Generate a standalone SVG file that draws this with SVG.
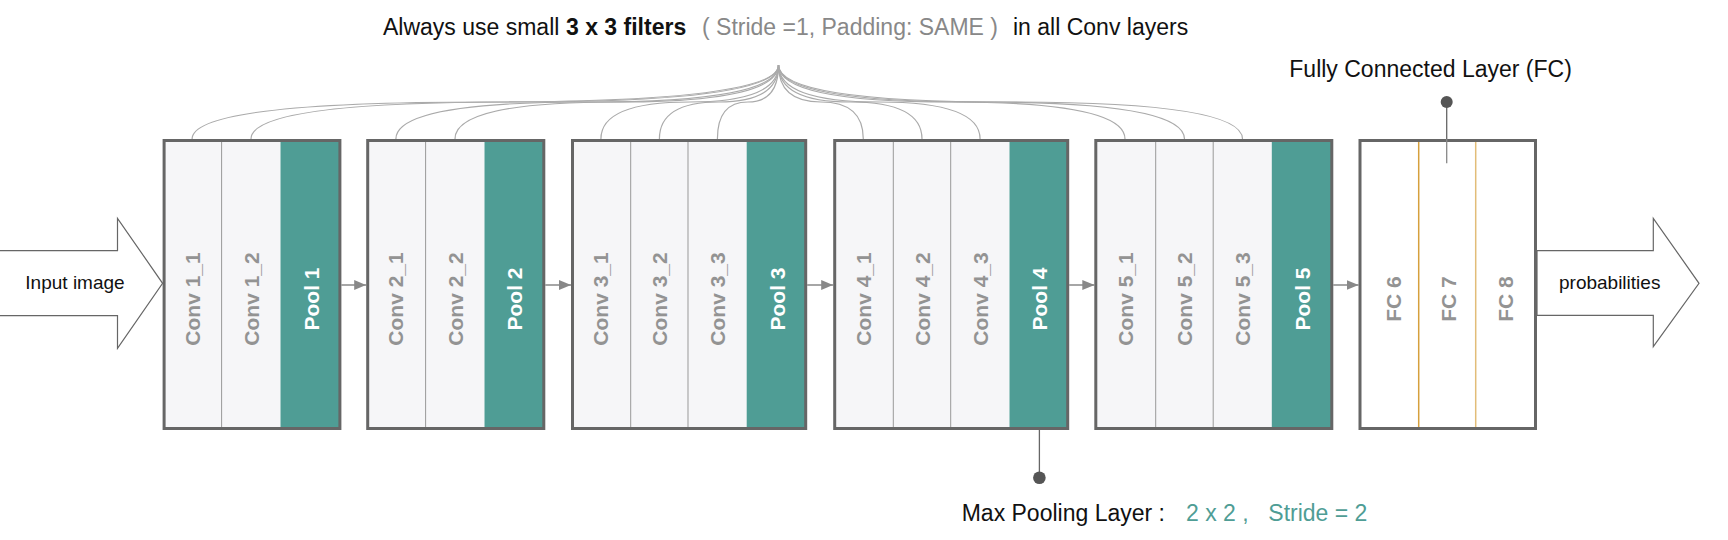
<svg xmlns="http://www.w3.org/2000/svg" width="1728" height="540" viewBox="0 0 1728 540">
<defs>
<style>
.txt{font-family:"Liberation Sans",Arial,Helvetica,sans-serif;fill:#111}
.t23{font-size:23px}
.t19{font-size:19px}
.conv{fill:#f6f6f8}
.pool{fill:#4f9d95}
.fcbg{fill:#ffffff}
.div{stroke:#999;stroke-width:1}
.blk{fill:none;stroke:#666;stroke-width:3}
.lbl{font-family:"Liberation Sans",Arial,Helvetica,sans-serif;font-weight:bold;font-size:21px;fill:#939393;text-anchor:middle}
.plbl{fill:#ffffff}
.fan{fill:none;stroke:#aaa;stroke-width:1.2}
.flow{fill:none;stroke:#888;stroke-width:1.5;marker-end:url(#ah)}
.big{fill:#fff;stroke:#666;stroke-width:1.2}
.pin{stroke:#666;stroke-width:1.3}
.dot{fill:#555}
.gray{fill:#888}
.teal{fill:#4f9d95}
</style>
<marker id="ah" viewBox="0 0 12 10" refX="12" refY="5" markerWidth="12" markerHeight="10" markerUnits="userSpaceOnUse" orient="auto">
<path d="M0,0 L12,5 L0,10 z" fill="#888"/>
</marker>
</defs>

<g id="title">
<text class="txt t23" y="35"><tspan x="383">Always use small</tspan><tspan x="566" font-weight="bold">3 x 3 filters</tspan><tspan x="702" class="gray">( Stride =1, Padding: SAME )</tspan><tspan x="1013">in all Conv layers</tspan></text>
</g>

<g id="connectors">
<path class="fan" d="M778.5 65 Q778.5 102 485.3 102 Q192.1 102 192.1 139"/>
<path class="fan" d="M778.5 65 Q778.5 102 514.75 102 Q251 102 251 139"/>
<path class="fan" d="M778.5 65 Q778.5 102 587.2 102 Q395.9 102 395.9 139"/>
<path class="fan" d="M778.5 65 Q778.5 102 616.75 102 Q455 102 455 139"/>
<path class="fan" d="M778.5 65 Q778.5 102 689.7 102 Q600.9 102 600.9 139"/>
<path class="fan" d="M778.5 65 Q778.5 102 718.95 102 Q659.4 102 659.4 139"/>
<path class="fan" d="M778.5 65 Q778.5 102 747.95 102 Q717.4 102 717.4 139"/>
<path class="fan" d="M778.5 65 Q778.5 102 820.9 102 Q863.3 102 863.3 139"/>
<path class="fan" d="M778.5 65 Q778.5 102 850.25 102 Q922 102 922 139"/>
<path class="fan" d="M778.5 65 Q778.5 102 879.3 102 Q980.1 102 980.1 139"/>
<path class="fan" d="M778.5 65 Q778.5 102 951.75 102 Q1125 102 1125 139"/>
<path class="fan" d="M778.5 65 Q778.5 102 981.5 102 Q1184.5 102 1184.5 139"/>
<path class="fan" d="M778.5 65 Q778.5 102 1010.5 102 Q1242.5 102 1242.5 139"/>
<line class="flow" x1="341.4" y1="285" x2="366.2" y2="285"/>
<line class="flow" x1="545.3" y1="285" x2="571" y2="285"/>
<line class="flow" x1="807.2" y1="285" x2="833.2" y2="285"/>
<line class="flow" x1="1069.2" y1="285" x2="1094.3" y2="285"/>
<line class="flow" x1="1333.3" y1="285" x2="1358.5" y2="285"/>
<line class="pin" x1="1039.4" y1="416" x2="1039.4" y2="477.7"/>
<circle class="dot" cx="1039.4" cy="477.7" r="6.3"/>
<line class="pin" x1="1446.7" y1="102" x2="1446.7" y2="163.3" stroke="#888"/>
<circle class="dot" cx="1446.7" cy="102" r="6"/>
</g>

<g id="input-arrow">
<polygon class="big" points="-5,250.7 117.5,250.7 117.5,218.3 162.6,283.3 117.5,348.3 117.5,315.7 -5,315.7"/>
<text class="txt t19" x="75" y="288.5" text-anchor="middle">Input image</text>
</g>

<g id="block1">
<rect class="conv" x="164.1" y="140.5" width="57.5" height="288"/>
<rect class="conv" x="221.6" y="140.5" width="58.9" height="288"/>
<rect class="pool" x="280.5" y="140.5" width="59.4" height="288"/>
<line class="div" x1="221.6" y1="140.5" x2="221.6" y2="428.5"/>
<rect class="blk" x="164.1" y="140.5" width="175.8" height="288"/>
<text class="lbl" transform="translate(199.6,299) rotate(-90)">Conv 1_1</text>
<text class="lbl" transform="translate(258.5,299) rotate(-90)">Conv 1_2</text>
<text class="lbl plbl" transform="translate(318.5,299) rotate(-90)">Pool 1</text>
</g>

<g id="block2">
<rect class="conv" x="367.7" y="140.5" width="57.9" height="288"/>
<rect class="conv" x="425.6" y="140.5" width="58.9" height="288"/>
<rect class="pool" x="484.5" y="140.5" width="59.3" height="288"/>
<line class="div" x1="425.6" y1="140.5" x2="425.6" y2="428.5"/>
<rect class="blk" x="367.7" y="140.5" width="176.1" height="288"/>
<text class="lbl" transform="translate(403.4,299) rotate(-90)">Conv 2_1</text>
<text class="lbl" transform="translate(462.5,299) rotate(-90)">Conv 2_2</text>
<text class="lbl plbl" transform="translate(522.4,299) rotate(-90)">Pool 2</text>
</g>

<g id="block3">
<rect class="conv" x="572.5" y="140.5" width="58.2" height="288"/>
<rect class="conv" x="630.7" y="140.5" width="57.3" height="288"/>
<rect class="conv" x="688" y="140.5" width="58.7" height="288"/>
<rect class="pool" x="746.7" y="140.5" width="59" height="288"/>
<line class="div" x1="630.7" y1="140.5" x2="630.7" y2="428.5"/>
<line class="div" x1="688" y1="140.5" x2="688" y2="428.5"/>
<rect class="blk" x="572.5" y="140.5" width="233.2" height="288"/>
<text class="lbl" transform="translate(608.4,299) rotate(-90)">Conv 3_1</text>
<text class="lbl" transform="translate(666.9,299) rotate(-90)">Conv 3_2</text>
<text class="lbl" transform="translate(724.9,299) rotate(-90)">Conv 3_3</text>
<text class="lbl plbl" transform="translate(784.5,299) rotate(-90)">Pool 3</text>
</g>

<g id="block4">
<rect class="conv" x="834.7" y="140.5" width="58.6" height="288"/>
<rect class="conv" x="893.3" y="140.5" width="57.4" height="288"/>
<rect class="conv" x="950.7" y="140.5" width="58.8" height="288"/>
<rect class="pool" x="1009.5" y="140.5" width="58.2" height="288"/>
<line class="div" x1="893.3" y1="140.5" x2="893.3" y2="428.5"/>
<line class="div" x1="950.7" y1="140.5" x2="950.7" y2="428.5"/>
<rect class="blk" x="834.7" y="140.5" width="233" height="288"/>
<text class="lbl" transform="translate(870.8,299) rotate(-90)">Conv 4_1</text>
<text class="lbl" transform="translate(929.5,299) rotate(-90)">Conv 4_2</text>
<text class="lbl" transform="translate(987.6,299) rotate(-90)">Conv 4_3</text>
<text class="lbl plbl" transform="translate(1046.9,299) rotate(-90)">Pool 4</text>
</g>

<g id="block5">
<rect class="conv" x="1095.8" y="140.5" width="59.9" height="288"/>
<rect class="conv" x="1155.7" y="140.5" width="57.5" height="288"/>
<rect class="conv" x="1213.2" y="140.5" width="58.6" height="288"/>
<rect class="pool" x="1271.8" y="140.5" width="60" height="288"/>
<line class="div" x1="1155.7" y1="140.5" x2="1155.7" y2="428.5"/>
<line class="div" x1="1213.2" y1="140.5" x2="1213.2" y2="428.5"/>
<rect class="blk" x="1095.8" y="140.5" width="236" height="288"/>
<text class="lbl" transform="translate(1132.5,299) rotate(-90)">Conv 5_1</text>
<text class="lbl" transform="translate(1192,299) rotate(-90)">Conv 5_2</text>
<text class="lbl" transform="translate(1250,299) rotate(-90)">Conv 5_3</text>
<text class="lbl plbl" transform="translate(1310,299) rotate(-90)">Pool 5</text>
</g>

<g id="fc-block">
<rect class="fcbg" x="1360" y="140.5" width="175.5" height="288"/>
<line x1="1418.7" y1="140.5" x2="1418.7" y2="428.5" stroke="#d6a03c" stroke-width="1.5"/>
<line x1="1475.7" y1="140.5" x2="1475.7" y2="428.5" stroke="#e2bd78" stroke-width="1.5"/>
<rect class="blk" x="1360" y="140.5" width="175.5" height="288"/>
<text class="lbl" transform="translate(1400.5,299) rotate(-90)">FC 6</text>
<text class="lbl" transform="translate(1455.5,299) rotate(-90)">FC 7</text>
<text class="lbl" transform="translate(1512.5,299) rotate(-90)">FC 8</text>
</g>

<g id="fc-pin">
<line x1="1446.7" y1="139" x2="1446.7" y2="163.3" stroke="#888" stroke-width="1.3"/>
</g>

<g id="output-arrow">
<polygon class="big" points="1537,250.7 1653.3,250.7 1653.3,218.3 1699,283.3 1653.3,346.7 1653.3,315.3 1537,315.3"/>
<text class="txt t19" x="1609.7" y="288.5" text-anchor="middle">probabilities</text>
</g>

<g id="fc-label">
<text class="txt t23" x="1289.3" y="76.7">Fully Connected Layer (FC)</text>
</g>

<g id="pool-label">
<text class="txt t23" y="520.7"><tspan x="961.7">Max Pooling Layer :</tspan><tspan x="1186" class="teal">2 x 2 ,</tspan><tspan x="1268.3" class="teal">Stride = 2</tspan></text>
</g>
</svg>
